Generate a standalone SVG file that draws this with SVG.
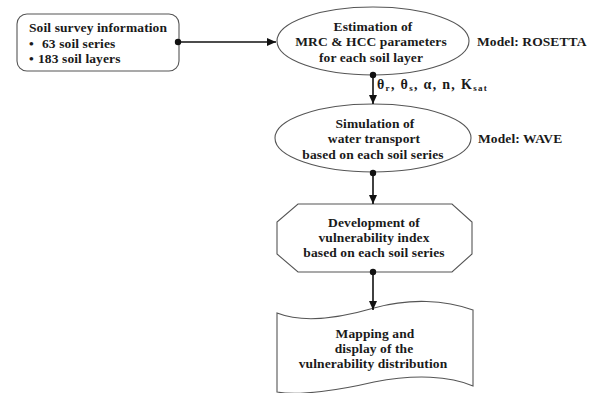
<svg xmlns="http://www.w3.org/2000/svg" width="593" height="393" viewBox="0 0 593 393">
<style>
.shape{fill:#fff;stroke:#555;stroke-width:1.1}
.t{font-family:"Liberation Serif","Times New Roman",serif;font-weight:bold;font-size:13.5px;letter-spacing:0.1px;fill:#1a1a1a}
.c{text-anchor:middle}
.conn{stroke:#111;stroke-width:1.6;fill:none}
.dot{fill:#111}
</style>
<defs>
<marker id="ah" markerWidth="10" markerHeight="10" refX="9" refY="5" orient="auto" markerUnits="userSpaceOnUse">
<path d="M0,1 L9,5 L0,9 Z" fill="#111"/>
</marker>
</defs>
<rect width="593" height="393" fill="#fff"/>
<g id="soil-survey">
<rect class="shape" x="17" y="14" width="162" height="57" rx="10" ry="10"/>
<text class="t" x="29" y="32">Soil survey information</text>
<text class="t" x="29" y="48">•</text>
<text class="t" x="42" y="48">63 soil series</text>
<text class="t" x="29" y="63">•</text>
<text class="t" x="38" y="63">183 soil layers</text>
</g>
<g id="estimation">
<ellipse class="shape" cx="373" cy="41" rx="96" ry="34"/>
<text class="t c" x="373" y="31">Estimation of</text>
<text class="t c" x="371" y="46">MRC &amp; HCC parameters</text>
<text class="t c" x="371" y="62">for each soil layer</text>
<text class="t" x="477" y="46">Model: ROSETTA</text>
</g>
<g id="simulation">
<ellipse class="shape" cx="373" cy="138" rx="98" ry="34"/>
<text class="t c" x="375" y="128">Simulation of</text>
<text class="t c" x="374" y="143">water transport</text>
<text class="t c" x="373" y="159">based on each soil series</text>
<text class="t" x="478" y="143">Model: WAVE</text>
</g>
<g id="development">
<path class="shape" d="M298,204 L452,204 L472,222 L472,254 L452,272 L298,272 L277,254 L277,222 Z"/>
<text class="t c" x="374" y="227">Development of</text>
<text class="t c" x="374" y="242">vulnerability index</text>
<text class="t c" x="374" y="257">based on each soil series</text>
</g>
<g id="mapping">
<path class="shape" d="M277,313 C305,324 340,318 374,308 C410,298 445,300 473,310 L473,386 C450,376 415,374 374,382 C340,390 300,396 277,392 Z"/>
<text class="t c" x="375" y="338">Mapping and</text>
<text class="t c" x="374" y="353">display of the</text>
<text class="t c" x="373" y="368">vulnerability distribution</text>
</g>
<g id="connectors">
<circle class="dot" cx="178" cy="42" r="3.2"/>
<line class="conn" x1="178" y1="42" x2="276" y2="42" marker-end="url(#ah)"/>
<circle class="dot" cx="373" cy="75" r="3.2"/>
<line class="conn" x1="373" y1="75" x2="373" y2="104" marker-end="url(#ah)"/>
<text class="t" x="377" y="89" style="font-size:14px;letter-spacing:1.3px">θ<tspan dy="2" font-size="9">r</tspan><tspan dy="-2">, θ</tspan><tspan dy="2" font-size="9">s</tspan><tspan dy="-2">, α, n, K</tspan><tspan dy="2" font-size="9">sat</tspan></text>
<circle class="dot" cx="373" cy="173" r="3.2"/>
<line class="conn" x1="373" y1="173" x2="373" y2="204" marker-end="url(#ah)"/>
<circle class="dot" cx="373" cy="272" r="3.2"/>
<line class="conn" x1="373" y1="272" x2="373" y2="310" marker-end="url(#ah)"/>
</g>
</svg>
